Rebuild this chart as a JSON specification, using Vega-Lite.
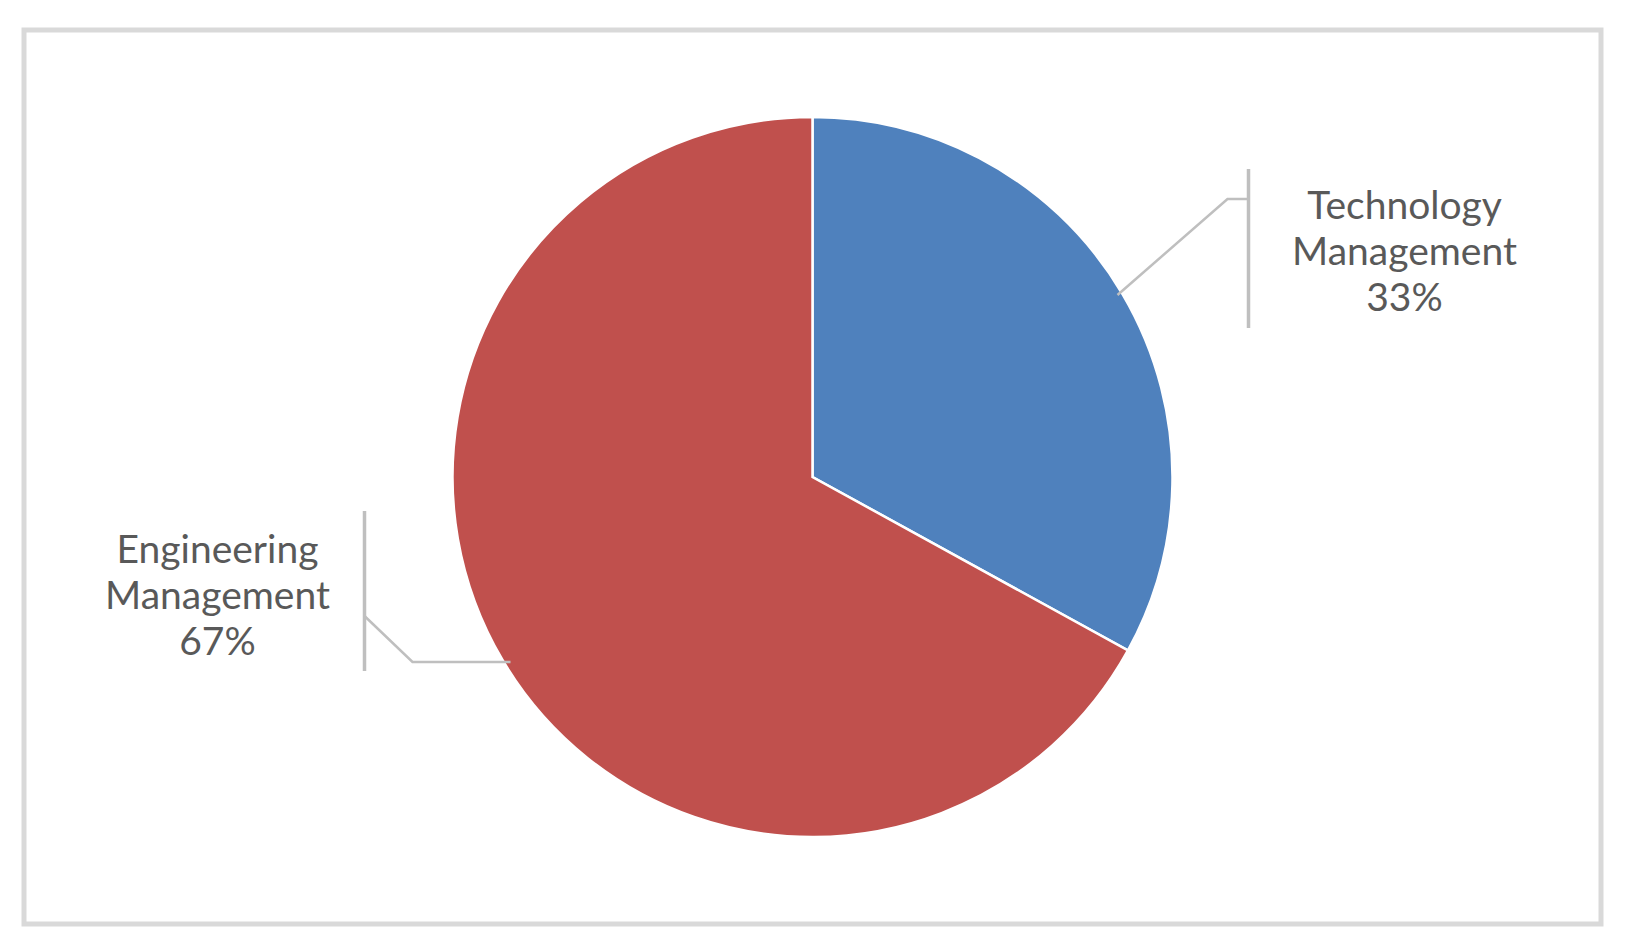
{
  "$schema": "https://vega.github.io/schema/vega-lite/v6.json",
  "width": 1577,
  "height": 894,
  "autosize": {"type": "none"},
  "padding": {"left": 24, "top": 30, "right": 30, "bottom": 28},
  "background": "white",
  "config": {"view": {"stroke": "#d9d9d9", "strokeWidth": 5}},
  "datasets": {
    "slices": [
      {"program": "Technology Management", "share": 33},
      {"program": "Engineering Management", "share": 67}
    ],
    "labels": [
      {"program": "Technology Management", "text": ["Technology", "Management", "33%"], "x": 592, "y": 258},
      {"program": "Engineering Management", "text": ["Engineering", "Management", "67%"], "x": -595, "y": -86}
    ],
    "leaders": [
      {"id": "tech", "seq": 1, "x": 305, "y": 182},
      {"id": "tech", "seq": 2, "x": 415, "y": 278},
      {"id": "tech", "seq": 3, "x": 436, "y": 278},
      {"id": "eng", "seq": 1, "x": -302, "y": -185},
      {"id": "eng", "seq": 2, "x": -400, "y": -185},
      {"id": "eng", "seq": 3, "x": -448, "y": -139}
    ],
    "bars": [
      {"id": "tech", "x": 436, "y1": 308, "y2": 149},
      {"id": "eng", "x": -448, "y1": -34, "y2": -194}
    ]
  },
  "layer": [
    {
      "data": {"name": "slices"},
      "mark": {"type": "arc", "outerRadius": 360, "stroke": "white", "strokeWidth": 2.5},
      "encoding": {
        "theta": {"field": "share", "type": "quantitative", "stack": true},
        "order": {"field": "share", "type": "quantitative", "sort": "ascending"},
        "color": {
          "field": "program",
          "type": "nominal",
          "scale": {"domain": ["Technology Management", "Engineering Management"], "range": ["#4F81BD", "#C0504D"]},
          "legend": null
        }
      }
    },
    {
      "data": {"name": "leaders"},
      "mark": {"type": "line", "color": "#bfbfbf", "strokeWidth": 2.5},
      "encoding": {
        "x": {"field": "x", "type": "quantitative", "scale": {"domain": [-788.5, 788.5]}, "axis": null},
        "y": {"field": "y", "type": "quantitative", "scale": {"domain": [-447, 447]}, "axis": null},
        "detail": {"field": "id"},
        "order": {"field": "seq", "type": "quantitative"}
      }
    },
    {
      "data": {"name": "bars"},
      "mark": {"type": "rule", "color": "#bfbfbf", "strokeWidth": 3.5},
      "encoding": {
        "x": {"field": "x", "type": "quantitative", "scale": {"domain": [-788.5, 788.5]}, "axis": null},
        "y": {"field": "y1", "type": "quantitative", "scale": {"domain": [-447, 447]}, "axis": null},
        "y2": {"field": "y2"}
      }
    },
    {
      "data": {"name": "labels"},
      "mark": {"type": "text", "font": "Lato", "fontSize": 39, "lineHeight": 46, "color": "#595959", "align": "center", "baseline": "alphabetic"},
      "encoding": {
        "x": {"field": "x", "type": "quantitative", "scale": {"domain": [-788.5, 788.5]}, "axis": null},
        "y": {"field": "y", "type": "quantitative", "scale": {"domain": [-447, 447]}, "axis": null},
        "text": {"field": "text"}
      }
    }
  ]
}
